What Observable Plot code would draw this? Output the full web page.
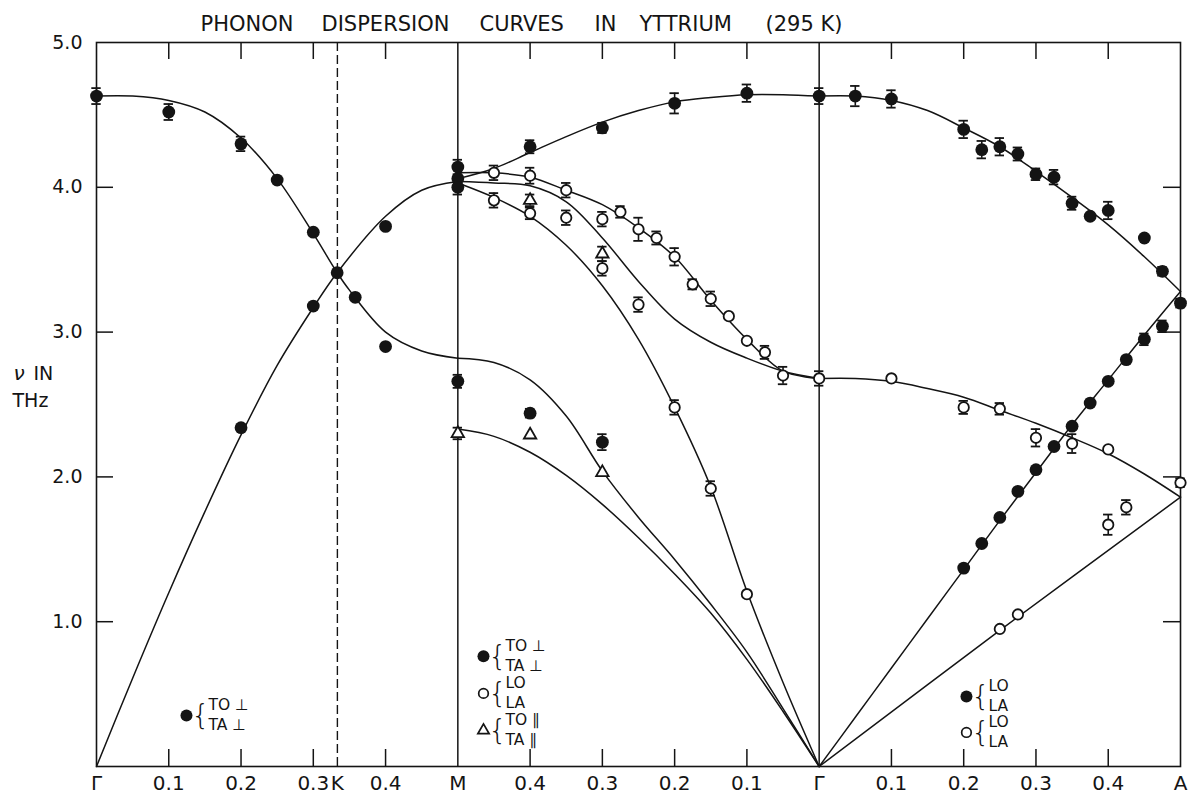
<!DOCTYPE html>
<html><head><meta charset="utf-8">
<script src="https://cdn.jsdelivr.net/npm/d3@7"></script>
<script src="https://cdn.jsdelivr.net/npm/@observablehq/plot@0.6"></script>
<style>body{margin:0;background:#fff} #chart svg{display:block}</style>
</head><body><div id="chart"></div>
<script>
// ---- Path: Γ (0) → K (1/3) → M (0.5) | M → Γ (1.0) | Γ → A (1.5) ----
// Each point: [reduced wave vector q, frequency ν (THz), error half-width]
// Segment T: Γ→K→M ([ξξ0]); S: M→Γ ([ξ00]); D: Γ→A ([00ζ])

// Measured points, Γ-K-M
const tFilled = [
  [0, 4.63, 0.055], [0.1, 4.52, 0.055], [0.2, 4.30, 0.05], [0.25, 4.05, 0], [0.3, 3.69, 0],
  [0.333, 3.41, 0], [0.358, 3.24, 0], [0.4, 3.73, 0], [0.4, 2.90, 0], [0.3, 3.18, 0], [0.2, 2.34, 0]
];
// Measured points, M-Γ
const sFilled = [
  [0.5, 4.14, 0.05], [0.5, 4.06, 0], [0.5, 4.00, 0.05], [0.5, 2.66, 0.045],
  [0.4, 4.28, 0.045], [0.3, 4.41, 0.035], [0.2, 4.58, 0.07], [0.1, 4.65, 0.06], [0, 4.63, 0.055],
  [0.4, 2.44, 0.03], [0.3, 2.24, 0.055]
];
const sOpen = [
  [0.45, 4.10, 0.05], [0.4, 4.08, 0.055], [0.35, 3.98, 0.05], [0.275, 3.83, 0.04], [0.25, 3.71, 0.08],
  [0.225, 3.65, 0.045], [0.2, 3.52, 0.06], [0.175, 3.33, 0.035], [0.15, 3.23, 0.05], [0.125, 3.11, 0],
  [0.1, 2.94, 0], [0.075, 2.86, 0.045], [0.05, 2.70, 0.06], [0, 2.68, 0.05],
  [0.45, 3.91, 0.05], [0.4, 3.82, 0.04], [0.35, 3.79, 0.05], [0.3, 3.78, 0.05], [0.3, 3.44, 0.05],
  [0.25, 3.19, 0.05], [0.2, 2.48, 0.05], [0.15, 1.92, 0.05], [0.1, 1.19, 0]
];
const sTri = [
  [0.5, 2.30, 0.04], [0.4, 3.91, 0.04], [0.4, 2.29, 0], [0.3, 3.54, 0.05], [0.3, 2.03, 0]
];
// Measured points, Γ-A
const dFilled = [
  [0.05, 4.63, 0.07], [0.1, 4.61, 0.06], [0.2, 4.40, 0.06], [0.225, 4.26, 0.06], [0.25, 4.28, 0.06],
  [0.275, 4.23, 0.045], [0.3, 4.09, 0.04], [0.325, 4.07, 0.05], [0.35, 3.89, 0.045], [0.375, 3.80, 0],
  [0.4, 3.84, 0.06], [0.45, 3.65, 0], [0.475, 3.42, 0.03], [0.5, 3.20, 0.03],
  [0.2, 1.37, 0], [0.225, 1.54, 0], [0.25, 1.72, 0], [0.275, 1.90, 0], [0.3, 2.05, 0], [0.325, 2.21, 0],
  [0.35, 2.35, 0], [0.375, 2.51, 0], [0.4, 2.66, 0], [0.425, 2.81, 0], [0.45, 2.95, 0.04], [0.475, 3.04, 0.04]
];
const dOpen = [
  [0.1, 2.68, 0], [0.2, 2.48, 0.045], [0.25, 2.47, 0.04], [0.3, 2.27, 0.06], [0.35, 2.23, 0.065],
  [0.4, 2.19, 0], [0.5, 1.96, 0.03], [0.4, 1.67, 0.07], [0.425, 1.79, 0.05], [0.25, 0.95, 0], [0.275, 1.05, 0]
];

// Calculated dispersion curves: [q, ν]
const tDown = [[0,4.63],[0.05,4.63],[0.1,4.60],[0.15,4.52],[0.2,4.34],[0.25,4.06],[0.3,3.68],[0.333,3.41],[0.35,3.29],[0.4,3.00],[0.45,2.87],[0.5,2.82]];
const tUp   = [[0,0],[0.05,0.61],[0.1,1.20],[0.15,1.76],[0.2,2.29],[0.25,2.77],[0.3,3.17],[0.333,3.41],[0.4,3.80],[0.45,3.98],[0.5,4.04]];
const sTop  = [[0.5,4.06],[0.45,4.13],[0.4,4.24],[0.35,4.35],[0.3,4.45],[0.25,4.53],[0.2,4.59],[0.15,4.62],[0.1,4.64],[0.05,4.64],[0,4.63]];
const sLO   = [[0.5,4.10],[0.45,4.10],[0.4,4.07],[0.35,3.98],[0.3,3.88],[0.25,3.72],[0.2,3.52],[0.15,3.22],[0.1,2.95],[0.05,2.73],[0,2.68]];
const sMid  = [[0.5,4.04],[0.45,4.03],[0.4,4.01],[0.35,3.90],[0.3,3.65],[0.25,3.35],[0.2,3.09],[0.15,2.93],[0.1,2.82],[0.05,2.73],[0,2.68]];
const sLA   = [[0.5,4.03],[0.45,3.93],[0.4,3.80],[0.35,3.60],[0.3,3.32],[0.25,2.95],[0.2,2.48],[0.15,1.93],[0.1,1.21],[0.05,0.58],[0,0]];
const sTO   = [[0.5,2.82],[0.45,2.79],[0.4,2.67],[0.35,2.42],[0.3,2.04],[0.25,1.72],[0.2,1.43],[0.15,1.12],[0.1,0.79],[0.05,0.40],[0,0]];
const sTA   = [[0.5,2.33],[0.45,2.28],[0.4,2.17],[0.35,2.01],[0.3,1.81],[0.25,1.58],[0.2,1.33],[0.15,1.06],[0.1,0.74],[0.05,0.38],[0,0]];
const dLO   = [[0,4.63],[0.05,4.63],[0.1,4.60],[0.15,4.53],[0.2,4.41],[0.25,4.28],[0.3,4.11],[0.35,3.93],[0.4,3.74],[0.45,3.52],[0.5,3.28]];
const dLA   = [[0,0],[0.05,0.34],[0.1,0.68],[0.15,1.02],[0.2,1.36],[0.25,1.70],[0.3,2.03],[0.35,2.36],[0.4,2.67],[0.45,2.98],[0.5,3.28]];
const dTO   = [[0,2.68],[0.05,2.68],[0.1,2.66],[0.15,2.61],[0.2,2.55],[0.25,2.46],[0.3,2.37],[0.35,2.27],[0.4,2.16],[0.45,2.02],[0.5,1.86]];
const dTA   = [[0,0],[0.25,0.94],[0.5,1.86]];

// Axis ticks and labels
const xLabelPos  = [0, 0.1, 0.2, 0.3, 1/3, 0.4, 0.5, 0.6, 0.7, 0.8, 0.9, 1.0, 1.1, 1.2, 1.3, 1.4, 1.5];
const xLabelText = ["Γ","0.1","0.2","0.3","K","0.4","M","0.4","0.3","0.2","0.1","Γ","0.1","0.2","0.3","0.4","A"];
const xMinorTicks = [0.1, 0.2, 0.3, 0.4, 0.6, 0.7, 0.8, 0.9, 1.1, 1.2, 1.3, 1.4];
const yTickVals = [1, 2, 3, 4, 5];
const yInnerTicks = [1, 2, 3, 4];
const titleWords = ["PHONON", "DISPERSION", "CURVES", "IN", "YTTRIUM", "(295 K)"];

// Legend notes: anchor (path coordinate, ν), symbol, two text lines
const legendItems = [
  {s: 0.1245, nu: 0.353, sym: "filled", top: "TO ⊥", bot: "TA ⊥"},
  {s: 0.5355, nu: 0.761, sym: "filled", top: "TO ⊥", bot: "TA ⊥"},
  {s: 0.5355, nu: 0.505, sym: "open",   top: "LO",   bot: "LA"},
  {s: 0.5355, nu: 0.249, sym: "tri",    top: "TO ∥", bot: "TA ∥"},
  {s: 1.2038, nu: 0.484, sym: "filled", top: "LO",   bot: "LA"},
  {s: 1.2038, nu: 0.235, sym: "open",   top: "LO",   bot: "LA"}
];

// ---- build ----
const seg = {T: q => q, S: q => 1 - q, D: q => 1 + q};
const toPts = (arr, k) => arr.map(([q, nu, err]) => ({s: seg[k](q), nu, err}));
const filled = [...toPts(tFilled, "T"), ...toPts(sFilled, "S"), ...toPts(dFilled, "D")];
const open = [...toPts(sOpen, "S"), ...toPts(dOpen, "D")];
const tri = toPts(sTri, "S");
const errPts = [...filled, ...open, ...tri].filter(d => d.err > 0);

const curveDefs = [["tDown", "T", tDown], ["tUp", "T", tUp], ["sTop", "S", sTop], ["sLO", "S", sLO],
  ["sMid", "S", sMid], ["sLA", "S", sLA], ["sTO", "S", sTO], ["sTA", "S", sTA],
  ["dLO", "D", dLO], ["dLA", "D", dLA], ["dTO", "D", dTO], ["dTA", "D", dTA]];
const curves = curveDefs.flatMap(([id, k, arr]) =>
  arr.map(([q, nu]) => ({id, s: seg[k](q), nu})).sort((a, b) => a.s - b.s));

const xLabels = xLabelPos.map((s, i) => ({s, label: xLabelText[i]}));

const W = 1188, H = 798, ML = 96, MR = 8, MT = 42, MB = 32;
const FW = W - ML - MR, FH = H - MT - MB;
const tickLen = 17;
const capHalf = 0.0065;
const ink = "#141414";
const font = "DejaVu Sans";
const titleDx = [104, 225, 383, 498, 543, 669];

const chart = Plot.plot({
  width: W, height: H,
  marginLeft: ML, marginRight: MR, marginTop: MT, marginBottom: MB,
  x: {domain: [0, 1.5], axis: null},
  y: {domain: [0, 5], axis: null},
  style: {fontFamily: font, background: "white", color: ink},
  marks: [
    // symmetry-point lines
    Plot.ruleX([1/3], {stroke: ink, strokeWidth: 1.4, strokeDasharray: "9,4"}),
    Plot.ruleX([0.5, 1.0], {stroke: ink, strokeWidth: 1.5}),
    Plot.frame({stroke: ink, strokeWidth: 1.6}),
    // inward ticks
    Plot.ruleX(xMinorTicks, {stroke: ink, strokeWidth: 1.5, insetTop: FH - tickLen}),
    Plot.ruleX(xMinorTicks, {stroke: ink, strokeWidth: 1.5, insetBottom: FH - tickLen}),
    Plot.ruleY(yInnerTicks, {stroke: ink, strokeWidth: 1.5, insetRight: FW - tickLen}),
    Plot.ruleY(yInnerTicks, {stroke: ink, strokeWidth: 1.5, insetLeft: FW - tickLen}),
    // curves
    Plot.line(curves, {x: "s", y: "nu", z: "id", curve: "catmull-rom", stroke: ink, strokeWidth: 1.5}),
    // error bars
    Plot.ruleX(errPts, {x: "s", y1: d => d.nu - d.err, y2: d => d.nu + d.err, stroke: ink, strokeWidth: 1.6}),
    Plot.ruleY(errPts, {y: d => d.nu + d.err, x1: d => d.s - capHalf, x2: d => d.s + capHalf, stroke: ink, strokeWidth: 1.8}),
    Plot.ruleY(errPts, {y: d => d.nu - d.err, x1: d => d.s - capHalf, x2: d => d.s + capHalf, stroke: ink, strokeWidth: 1.8}),
    // data markers
    Plot.dot(filled, {x: "s", y: "nu", r: 6.4, fill: ink, stroke: "none"}),
    Plot.dot(open, {x: "s", y: "nu", r: 5.2, fill: "white", stroke: ink, strokeWidth: 1.8}),
    Plot.dot(tri, {x: "s", y: "nu", r: 4.6, symbol: "triangle", fill: "white", stroke: ink, strokeWidth: 1.8}),
    // legends
    Plot.dot(legendItems.filter(d => d.sym === "filled"), {x: "s", y: "nu", r: 6, fill: ink}),
    Plot.dot(legendItems.filter(d => d.sym === "open"), {x: "s", y: "nu", r: 4.8, fill: "white", stroke: ink, strokeWidth: 1.7}),
    Plot.dot(legendItems.filter(d => d.sym === "tri"), {x: "s", y: "nu", r: 4.2, symbol: "triangle", fill: "white", stroke: ink, strokeWidth: 1.7}),
    Plot.text(legendItems, {x: "s", y: "nu", text: () => "{", dx: 14, fontSize: 29, fontWeight: 200, fill: ink}),
    Plot.text(legendItems, {x: "s", y: "nu", text: "top", dx: 22, dy: -10, textAnchor: "start", fontSize: 15.5, fill: ink}),
    Plot.text(legendItems, {x: "s", y: "nu", text: "bot", dx: 22, dy: 10, textAnchor: "start", fontSize: 15.5, fill: ink}),
    // axis labels
    Plot.text(xLabels, {x: "s", text: "label", frameAnchor: "bottom", lineAnchor: "middle", dy: 17, fontSize: 20, fill: ink}),
    Plot.text(yTickVals, {y: d => d, text: d => d.toFixed(1), frameAnchor: "left", dx: -14, textAnchor: "end", fontSize: 19, fill: ink}),
    Plot.text(["ν"], {frameAnchor: "left", lineAnchor: "middle", dx: -83, dy: -31, textAnchor: "start", fontSize: 20, fontStyle: "italic", fill: ink}),
    Plot.text(["IN"], {frameAnchor: "left", lineAnchor: "middle", dx: -63, dy: -31, textAnchor: "start", fontSize: 19, fill: ink}),
    Plot.text(["THz"], {frameAnchor: "left", lineAnchor: "middle", dx: -84, dy: -4, textAnchor: "start", fontSize: 19, fill: ink}),
    // title
    ...titleWords.map((w, i) => Plot.text([w], {frameAnchor: "top-left", lineAnchor: "middle", dx: titleDx[i], dy: -18, textAnchor: "start", fontSize: 21, fill: ink}))
  ]
});
document.getElementById("chart").appendChild(chart);
</script></body></html>
